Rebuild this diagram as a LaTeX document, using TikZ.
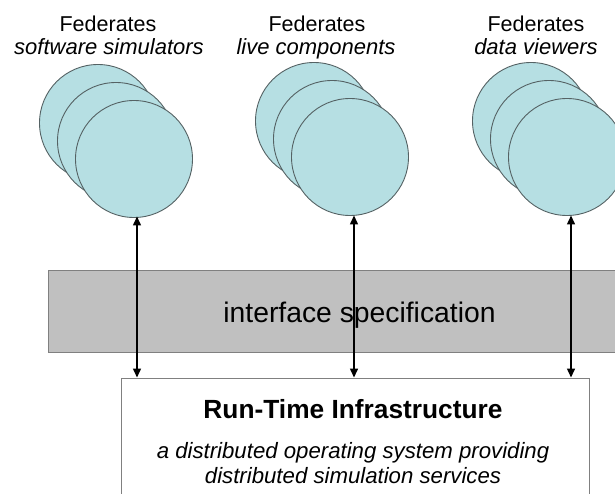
\documentclass[tikz,border=0pt]{standalone}
\usepackage{fontspec}
\setmainfont{Liberation Sans}
\usetikzlibrary{arrows.meta}
\definecolor{fedfill}{RGB}{182,223,227}
\definecolor{fededge}{RGB}{85,98,100}
\definecolor{bandfill}{RGB}{192,192,192}
\definecolor{bandedge}{RGB}{128,128,128}
\definecolor{boxedge}{RGB}{128,128,128}
\tikzset{
  fed/.style={circle, draw=fededge, fill=fedfill, line width=0.9pt, inner sep=0pt, minimum size=117pt},
  headA/.style={anchor=base, inner sep=0pt, font=\fontsize{21.5}{23}\selectfont},
  headB/.style={anchor=base, inner sep=0pt, font=\fontsize{22}{23}\selectfont\itshape},
  bandtxt/.style={anchor=base, inner sep=0pt, font=\fontsize{28.3}{30}\selectfont},
  rtititle/.style={anchor=base, inner sep=0pt, font=\fontsize{26.3}{28}\selectfont\bfseries},
  rtisub/.style={anchor=base, inner sep=0pt, font=\fontsize{22.2}{25}\selectfont\itshape},
  conn/.style={{Triangle[length=9pt,width=8pt]}-{Triangle[length=9pt,width=8pt]}, line width=1.5pt, black}
}
\begin{document}
\begin{tikzpicture}[x=1pt,y=-1pt]
\useasboundingbox (0,0) rectangle (615,494);
\clip (0,0) rectangle (615,494);
\fill[white] (0,0) rectangle (615,494);

% headers
\node[headA] (h1a) at (108,32) {Federates};
\node[headB] (h1b) at (109,55) {software simulators};
\node[headA] (h2a) at (317,32) {Federates};
\node[headB] (h2b) at (316,55) {live components};
\node[headA] (h3a) at (536,32) {Federates};
\node[headB] (h3b) at (536,55) {data viewers};

% federate stacks
\node[fed] (g1a) at (98,123) {};
\node[fed] (g1b) at (116,141) {};
\node[fed] (g1c) at (134,159) {};
\node[fed] (g2a) at (314,121) {};
\node[fed] (g2b) at (332,139) {};
\node[fed] (g2c) at (350,157) {};
\node[fed] (g3a) at (531,121) {};
\node[fed] (g3b) at (549,139) {};
\node[fed] (g3c) at (567,157) {};

% interface band
\node[draw=bandedge, fill=bandfill, line width=1.2pt, inner sep=0pt, minimum width=590pt, minimum height=82pt, anchor=north west] (band) at (48,270) {};
\node[bandtxt] (bandlbl) at (359.5,322) {interface specification};

% RTI box
\node[draw=boxedge, fill=white, line width=1pt, inner sep=0pt, minimum width=468pt, minimum height=150pt, anchor=north west] (rti) at (121,378) {};
\node[rtititle] (rtit) at (353,418) {Run-Time Infrastructure};
\node[rtisub] (rtis1) at (353,458) {a distributed operating system providing};
\node[rtisub] (rtis2) at (353,483) {distributed simulation services};

% connector end points
\coordinate (t1) at (137,216.5);
\coordinate (b1) at (137,377.5);
\coordinate (t2) at (354,215.5);
\coordinate (b2) at (354,377.5);
\coordinate (t3) at (571,215.5);
\coordinate (b3) at (571,377.5);
\draw[conn] (t1) -- (b1);
\draw[conn] (t2) -- (b2);
\draw[conn] (t3) -- (b3);
\end{tikzpicture}
\end{document}
